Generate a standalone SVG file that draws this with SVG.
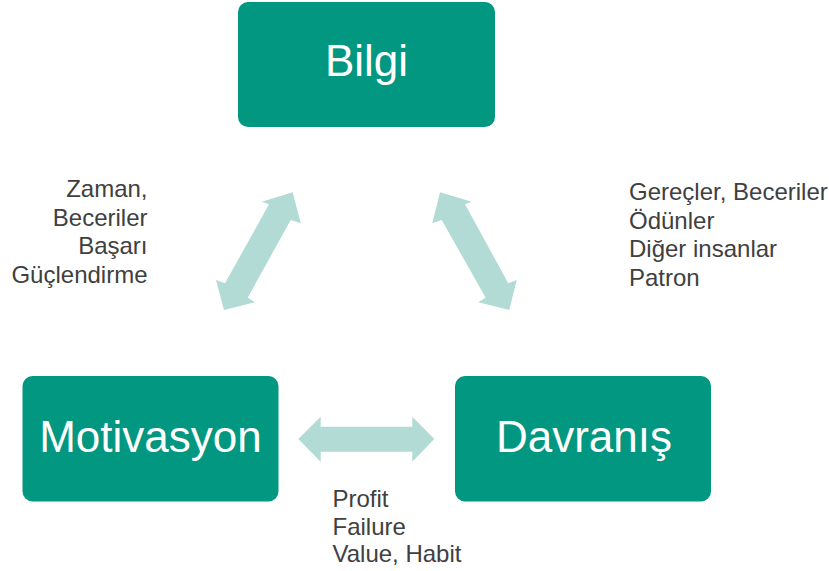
<svg xmlns="http://www.w3.org/2000/svg" width="829" height="571" viewBox="0 0 829 571">
<style>
.box{fill:#029780;}
.title{font-family:"Liberation Sans",Arial,sans-serif;font-size:44px;fill:#ffffff;text-anchor:middle;}
.lbl{font-family:"Liberation Sans",Arial,sans-serif;font-size:24px;fill:#404040;}
.arr{fill:#B2DBD5;}
</style>
<rect width="829" height="571" fill="#ffffff"/>
<g id="connectors">
<polygon class="arr" points="292.7,192.3 300.7,223.3 290.7,220 247.7,297.7 255,302.3 224,310 216,280 225,283.3 269,204.3 261.7,201.7"/>
<polygon class="arr" points="440,192.3 471.7,201.7 465,204.3 508.3,283.3 516.7,280 509.3,310 478.3,302.3 485.7,297.7 441.7,220 432.3,223.3"/>
<polygon class="arr" points="298.3,439 320.7,416.7 320.7,426.7 412.3,426.7 412.3,416.7 434.3,439 412.3,461.7 412.3,451.7 320.7,451.7 320.7,461.7"/>
</g>
<g id="bilgi">
<rect class="box" x="238" y="2" width="257" height="125" rx="10"/>
<text class="title" x="366.5" y="76">Bilgi</text>
</g>
<g id="motivasyon">
<rect class="box" x="22.5" y="376" width="256" height="125.5" rx="10"/>
<text class="title" x="150.5" y="452">Motivasyon</text>
</g>
<g id="davranis">
<rect class="box" x="455" y="376" width="256" height="125.5" rx="10"/>
<text class="title" x="584" y="452">Davranış</text>
</g>
<g id="label-left" class="lbl" text-anchor="end">
<text x="147.5" y="197">Zaman,</text>
<text x="147.5" y="225.5">Beceriler</text>
<text x="147.5" y="254">Başarı</text>
<text x="147.5" y="282.5">Güçlendirme</text>
</g>
<g id="label-right" class="lbl">
<text x="629" y="200">Gereçler, Beceriler</text>
<text x="629" y="228.5">Ödünler</text>
<text x="629" y="257">Diğer insanlar</text>
<text x="629" y="285.5">Patron</text>
</g>
<g id="label-bottom" class="lbl">
<text x="332.5" y="507">Profit</text>
<text x="332.5" y="534.5">Failure</text>
<text x="332.5" y="562">Value, Habit</text>
</g>
</svg>
